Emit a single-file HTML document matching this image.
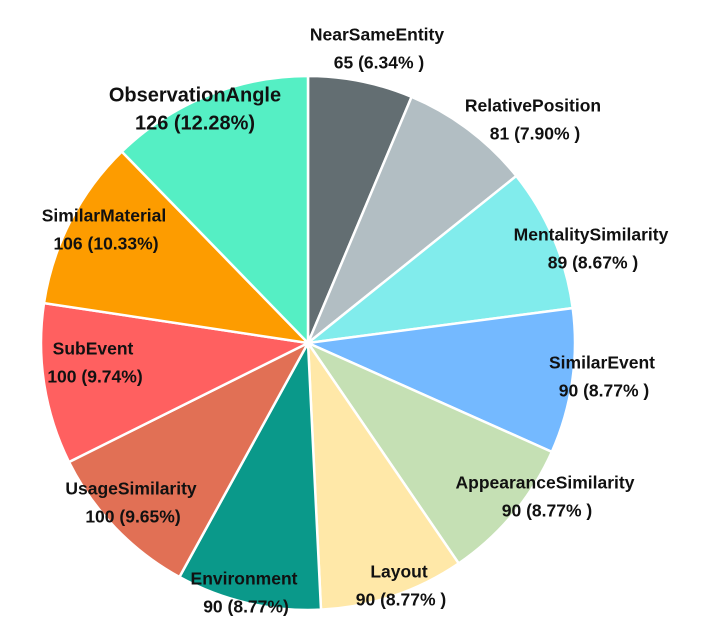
<!DOCTYPE html>
<html><head><meta charset="utf-8"><style>
body{margin:0;background:#fff;}
svg{display:block;}
text{font-family:"Liberation Sans",sans-serif;font-weight:bold;font-size:17.5px;fill:#111;text-anchor:middle;dominant-baseline:middle;}
</style></head><body>
<svg id="chart" width="705" height="633" viewBox="0 0 705 633"></svg>
<script>
const categories=["NearSameEntity","RelativePosition","MentalitySimilarity","SimilarEvent","AppearanceSimilarity","Layout","Environment","UsageSimilarity","SubEvent","SimilarMaterial","ObservationAngle"];
const counts=[65,81,89,90,90,90,90,100,100,106,126];
const percents=[6.34,7.90,8.67,8.77,8.77,8.77,8.77,9.65,9.74,10.33,12.28];
const valueLabels=["65 (6.34% )","81 (7.90% )","89 (8.67% )","90 (8.77% )","90 (8.77% )","90 (8.77% )","90 (8.77%)","100  (9.65%)","100  (9.74%)","106 (10.33%)","126 (12.28%)"];
const colors=["#636E72","#B2BEC3","#81ECEC","#74B9FF","#C5E0B4","#FFE8A8","#0A998A","#E17055","#FF6060","#FD9C00","#55EFC4"];
const labelPos=[[377,36],[533,107],[591,236],[602,364],[545,484],[399,573],[244,580],[131,490],[93,350],[104,217],[195,96]];
const cx=308,cy=343,r=267;
const svg=document.getElementById('chart');
const NS="http://www.w3.org/2000/svg";
const total=percents.reduce((a,b)=>a+b,0);
function pt(a){return [cx+r*Math.sin(a),cy-r*Math.cos(a)];}
let acc=0;
percents.forEach((v,i)=>{
  const a0=acc/total*2*Math.PI; acc+=v; const a1=acc/total*2*Math.PI;
  const p0=pt(a0),p1=pt(a1);
  const large=(a1-a0)>Math.PI?1:0;
  const path=document.createElementNS(NS,'path');
  path.setAttribute('d',`M${cx},${cy}L${p0[0]},${p0[1]}A${r},${r} 0 ${large} 1 ${p1[0]},${p1[1]}Z`);
  path.setAttribute('fill',colors[i]);
  path.setAttribute('stroke','#fff');
  path.setAttribute('stroke-width','2.5');
  
  
  svg.appendChild(path);
});
categories.forEach((c,i)=>{
  const [x,y]=labelPos[i];
  const big=i===10;
  const t1=document.createElementNS(NS,'text');
  t1.setAttribute('x',x);t1.setAttribute('y',y);
  if(big)t1.setAttribute('style','font-size:20px');
  t1.textContent=c;
  
  
  svg.appendChild(t1);
  const t2=document.createElementNS(NS,'text');
  t2.setAttribute('x',x+(big?0:2));t2.setAttribute('y',y+28);
  if(big)t2.setAttribute('style','font-size:20px');
  t2.textContent=valueLabels[i];
  
  
  svg.appendChild(t2);
});
</script>
</body></html>
